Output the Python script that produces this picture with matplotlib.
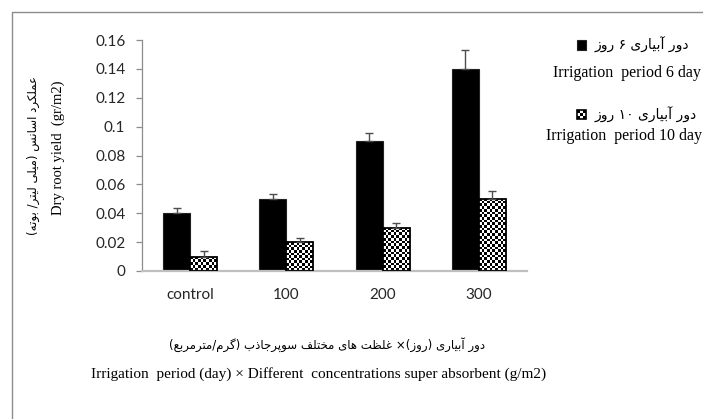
import re
import numpy as np
import matplotlib
matplotlib.use("Agg")
import matplotlib.pyplot as plt
from matplotlib.patches import Rectangle

# ----------------------------
# data
# ----------------------------
categories = ["control", "100", "200", "300"]
yield_6day = [0.04, 0.05, 0.09, 0.14]
yield_10day = [0.01, 0.02, 0.03, 0.05]
err_6day = [0.0035, 0.003, 0.0055, 0.013]
err_10day = [0.0037, 0.003, 0.0033, 0.0055]
yticks = [0, 0.02, 0.04, 0.06, 0.08, 0.1, 0.12, 0.14, 0.16]
ytick_labels = ["0", "0.02", "0.04", "0.06", "0.08", "0.1", "0.12", "0.14", "0.16"]

legend_fa = ["دور آبیاری ۶ روز", "دور آبیاری ۱۰ روز"]
legend_en = ["Irrigation  period 6 day", "Irrigation  period 10 day"]
ylabel_fa = "عملکرد اسانس (میلی لیتر/ بوته)"
ylabel_en = "Dry root yield  (gr/m2)"
xlabel_fa = "دور آبیاری (روز)× غلظت های مختلف سوپرجاذب (گرم/مترمربع)"
xlabel_en = "Irrigation  period (day) × Different  concentrations super absorbent (g/m2)"

# ----------------------------
# minimal Persian shaping (matplotlib has no RTL / joining support)
# forms: isolated, final, initial, medial
# ----------------------------
FORMS = {
    "ا": ("\uFE8D", "\uFE8E", None, None),
    "آ": ("\uFE81", "\uFE82", None, None),
    "ب": ("\uFE8F", "\uFE90", "\uFE91", "\uFE92"),
    "پ": ("\uFB56", "\uFB57", "\uFB58", "\uFB59"),
    "ت": ("\uFE95", "\uFE96", "\uFE97", "\uFE98"),
    "ج": ("\uFE9D", "\uFE9E", "\uFE9F", "\uFEA0"),
    "خ": ("\uFEA5", "\uFEA6", "\uFEA7", "\uFEA8"),
    "د": ("\uFEA9", "\uFEAA", None, None),
    "ذ": ("\uFEAB", "\uFEAC", None, None),
    "ر": ("\uFEAD", "\uFEAE", None, None),
    "ز": ("\uFEAF", "\uFEB0", None, None),
    "س": ("\uFEB1", "\uFEB2", "\uFEB3", "\uFEB4"),
    "ظ": ("\uFEC5", "\uFEC6", "\uFEC7", "\uFEC8"),
    "ع": ("\uFEC9", "\uFECA", "\uFECB", "\uFECC"),
    "غ": ("\uFECD", "\uFECE", "\uFECF", "\uFED0"),
    "ف": ("\uFED1", "\uFED2", "\uFED3", "\uFED4"),
    "ک": ("\uFB8E", "\uFB8F", "\uFB90", "\uFB91"),
    "گ": ("\uFB92", "\uFB93", "\uFB94", "\uFB95"),
    "ل": ("\uFEDD", "\uFEDE", "\uFEDF", "\uFEE0"),
    "م": ("\uFEE1", "\uFEE2", "\uFEE3", "\uFEE4"),
    "ن": ("\uFEE5", "\uFEE6", "\uFEE7", "\uFEE8"),
    "ه": ("\uFEE9", "\uFEEA", "\uFEEB", "\uFEEC"),
    "و": ("\uFEED", "\uFEEE", None, None),
    "ی": ("\uFBFC", "\uFBFD", "\uFBFE", "\uFBFF"),
}


def shape_fa(s):
    out = []
    for i, c in enumerate(s):
        if c not in FORMS:
            out.append(c)
            continue
        prev = s[i - 1] if i > 0 else ""
        nxt = s[i + 1] if i + 1 < len(s) else ""
        jp = prev in FORMS and FORMS[prev][2] is not None
        jn = FORMS[c][2] is not None and nxt in FORMS
        iso, fin, ini, med = FORMS[c]
        out.append(med if jp and jn else fin if jp else ini if jn else iso)
    vis = "".join(out)[::-1]
    vis = re.sub(r"[0-9\u06F0-\u06F9]+", lambda m: m.group(0)[::-1], vis)
    return vis.translate(str.maketrans("()", ")("))


FA_FONT = ["DejaVu Sans"]
EN_FONT = ["Liberation Serif", "DejaVu Sans"]
TICK_FONT = "Lato"

# ----------------------------
# figure
# ----------------------------
W, H = 703, 419
fig = plt.figure(figsize=(W / 100, H / 100), dpi=100)
fig.patches.append(Rectangle((12 / W, -0.1), 1.2, 1 - 12 / H + 0.1, transform=fig.transFigure,
                             fill=False, edgecolor="#8c8c8c", linewidth=1.0))

ax = fig.add_axes([142 / W, 1 - 271 / H, 385 / W, 231 / H])
x = np.arange(len(categories))
bw = 0.28
ax.set_xlim(-0.5, len(categories) - 0.5)
ax.set_ylim(0, 0.16)

bars6 = ax.bar(x - bw / 2, yield_6day, bw, color="black", edgecolor="#222222", linewidth=0.8, zorder=2)
bars10 = ax.bar(x + bw / 2, yield_10day, bw, facecolor="none", edgecolor="black", linewidth=1.3, zorder=3)

# checkerboard fill for the 10-day bars
cell = 2.7
for bar in bars10:
    x0, y0 = bar.get_xy()
    w, h = bar.get_width(), bar.get_height()
    p = ax.transData.transform([[x0, y0], [x0 + w, y0 + h]])
    nx = max(1, int(round((p[1, 0] - p[0, 0]) / cell)))
    ny = max(1, int(round((p[1, 1] - p[0, 1]) / cell)))
    board = np.indices((ny, nx)).sum(axis=0) % 2
    im = ax.imshow(board, cmap="gray", vmin=0, vmax=1, extent=(x0, x0 + w, y0, y0 + h),
                   aspect="auto", interpolation="nearest", zorder=2)
    im.set_clip_path(bar)

ax.set_xlim(-0.5, len(categories) - 0.5)
ax.set_ylim(0, 0.16)

ax.errorbar(x - bw / 2, yield_6day, yerr=[np.zeros(4), err_6day], fmt="none",
            ecolor="#4d4d4d", elinewidth=1.0, capsize=3, capthick=1.0, zorder=4)
ax.errorbar(x + bw / 2, yield_10day, yerr=[np.zeros(4), err_10day], fmt="none",
            ecolor="#4d4d4d", elinewidth=1.0, capsize=3, capthick=1.0, zorder=4)

for s in ["top", "right"]:
    ax.spines[s].set_visible(False)
ax.spines["left"].set_color("#8c8c8c")
ax.spines["left"].set_linewidth(0.9)
ax.spines["bottom"].set_color("#bfbfbf")
ax.spines["bottom"].set_linewidth(1.6)

ax.set_yticks(yticks)
ax.set_yticklabels(ytick_labels, fontfamily=TICK_FONT, fontsize=11, color="#262626")
ax.tick_params(axis="y", length=4, width=0.9, color="#8c8c8c", pad=8)
ax.set_xticks(x)
ax.set_xticklabels(categories, fontfamily=TICK_FONT, fontsize=11, color="#262626")
ax.tick_params(axis="x", length=0, pad=12)


# ----------------------------
# legend (Persian label with marker, English line below)
# ----------------------------
class CheckerHandler:
    def legend_artist(self, legend, orig_handle, fontsize, handlebox):
        x0, y0 = -handlebox.xdescent, -handlebox.ydescent
        w, h = handlebox.width, handlebox.height
        tr = handlebox.get_transform()
        handlebox.add_artist(Rectangle((x0, y0), w, h, facecolor="white", edgecolor="none", transform=tr))
        n = 3
        for i in range(n):
            for j in range(n):
                if (i + j) % 2 == 0:
                    handlebox.add_artist(Rectangle((x0 + i * w / n, y0 + j * h / n), w / n, h / n,
                                                   facecolor="black", edgecolor="none", transform=tr))
        box = Rectangle((x0, y0), w, h, facecolor="none", edgecolor="black", linewidth=1.2, transform=tr)
        handlebox.add_artist(box)
        return box


leg = fig.legend([bars6, bars10], [shape_fa(t) for t in legend_fa],
                 handler_map={bars10: CheckerHandler()},
                 loc="upper left", bbox_to_anchor=(577 / W, 1 - 37 / H),
                 frameon=False, borderpad=0, borderaxespad=0,
                 handlelength=0.65, handleheight=0.65, handletextpad=0.6,
                 labelspacing=3.85, prop={"family": FA_FONT, "size": 10})

fig.text(627 / W, 1 - 73 / H, legend_en[0], ha="center", va="center", family=EN_FONT, fontsize=11.5)
fig.text(624 / W, 1 - 136 / H, legend_en[1], ha="center", va="center", family=EN_FONT, fontsize=11.5)

# axis titles
fig.text(33 / W, 1 - 155 / H, shape_fa(ylabel_fa), rotation=90, ha="center", va="center",
         family=FA_FONT, fontsize=8.5)
fig.text(58 / W, 1 - 148 / H, ylabel_en, rotation=90, ha="center", va="center",
         family=EN_FONT, fontsize=10.5)
fig.text(327 / W, 1 - 345 / H, shape_fa(xlabel_fa), ha="center", va="center",
         family=FA_FONT, fontsize=8.5)
fig.text(319 / W, 1 - 374 / H, xlabel_en, ha="center", va="center",
         family=EN_FONT, fontsize=11)

fig.savefig("out.png", dpi=100)
